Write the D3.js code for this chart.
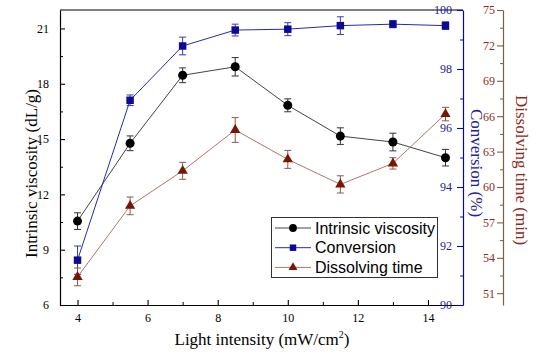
<!DOCTYPE html>
<html>
<head>
<meta charset="utf-8">
<script src="https://cdn.jsdelivr.net/npm/d3@7"></script>
<style>
  body { margin: 0; background: #fff; }
  svg { display: block; }
</style>
</head>
<body>
<script>
// values
const lightIntensity = [4, 5.5, 7, 8.5, 10, 11.5, 13, 14.5];
const viscosity = [10.55, 14.77, 18.46, 18.92, 16.83, 15.16, 14.84, 13.99];
const viscosityErr = [0.45, 0.4, 0.4, 0.5, 0.35, 0.45, 0.48, 0.45];
const conversion = [91.52, 96.94, 98.78, 99.32, 99.35, 99.47, 99.52, 99.47];
const conversionErr = [0.48, 0.18, 0.3, 0.2, 0.22, 0.3, 0.12, 0.13];
const dissolving = [52.38, 58.4, 61.37, 64.83, 62.34, 60.22, 62.0, 66.18];
const dissolvingErr = [0.75, 0.75, 0.72, 1.05, 0.76, 0.73, 0.48, 0.57];

const xTicks = [4, 6, 8, 10, 12, 14];
const viscTicks = [6, 9, 12, 15, 18, 21];
const convTicks = [90, 92, 94, 96, 98, 100];
const dissTicks = [51, 54, 57, 60, 63, 66, 69, 72, 75];

const W = 550, H = 357;
const plotLeft = 60, plotRight = 463, plotTop = 10, plotBottom = 305;
const dissAxisX = 503;

const black = "#000", blue = "#0a0a96", darkRed = "#7a1600";
const blueText = "#22229a", redText = "#8e2a22", brownAxis = "#7b5f45";

const svg = d3.select("body").append("svg")
  .attr("width", W)
  .attr("height", H);

const x = d3.scaleLinear().domain([3.5, 15]).range([plotLeft, plotRight]);
const yVisc = d3.scaleLinear().domain([6, 22]).range([plotBottom, plotTop]);
const yConv = d3.scaleLinear().domain([90, 100]).range([plotBottom, plotTop]);
const yDiss = d3.scaleLinear().domain([50, 75]).range([plotBottom, plotTop]);

const serif = "'Liberation Serif', 'Times New Roman', serif";
const sans = "'Liberation Sans', Arial, sans-serif";

const styleAxis = (g, color, textColor) => {
  g.select(".domain").attr("stroke", color).attr("stroke-width", 1.2);
  g.selectAll(".tick line").attr("stroke", color).attr("stroke-width", 1.1);
  g.selectAll(".tick text")
    .attr("fill", textColor)
    .style("font-family", serif)
    .style("font-size", "12px");
};

// top frame line
svg.append("line")
  .attr("x1", plotLeft).attr("x2", plotRight)
  .attr("y1", plotTop).attr("y2", plotTop)
  .attr("stroke", black).attr("stroke-width", 1.2);

// bottom axis
svg.append("g")
  .attr("transform", `translate(0,${plotBottom})`)
  .call(d3.axisBottom(x).tickValues([5, 7, 9, 11, 13]).tickFormat("").tickSizeInner(-3).tickSizeOuter(0))
  .call(g => g.select(".domain").remove())
  .call(g => g.selectAll(".tick line").attr("stroke", black));
svg.append("g")
  .attr("transform", `translate(0,${plotBottom})`)
  .call(d3.axisBottom(x).tickValues(xTicks).tickSizeInner(-5).tickSizeOuter(0).tickPadding(8))
  .call(g => styleAxis(g, black, black));

// left axis
svg.append("g")
  .attr("transform", `translate(${plotLeft},0)`)
  .call(d3.axisLeft(yVisc).tickValues([7.5, 10.5, 13.5, 16.5, 19.5]).tickFormat("").tickSizeInner(-3).tickSizeOuter(0))
  .call(g => g.select(".domain").remove())
  .call(g => g.selectAll(".tick line").attr("stroke", black));
svg.append("g")
  .attr("transform", `translate(${plotLeft},0)`)
  .call(d3.axisLeft(yVisc).tickValues(viscTicks).tickSizeInner(-5).tickSizeOuter(0).tickPadding(11))
  .call(g => styleAxis(g, black, black));

// conversion axis (blue)
svg.append("g")
  .attr("transform", `translate(${plotRight},0)`)
  .call(d3.axisLeft(yConv).tickValues([91, 93, 95, 97, 99]).tickFormat("").tickSizeInner(3).tickSizeOuter(0))
  .call(g => g.select(".domain").remove())
  .call(g => g.selectAll(".tick line").attr("stroke", blue));
svg.append("g")
  .attr("transform", `translate(${plotRight},0)`)
  .call(d3.axisLeft(yConv).tickValues(convTicks).tickSizeInner(6).tickSizeOuter(0).tickPadding(5))
  .call(g => styleAxis(g, blue, blueText));

// dissolving time axis
svg.append("g")
  .attr("transform", `translate(${dissAxisX},0)`)
  .call(d3.axisLeft(yDiss).tickValues([52.5, 55.5, 58.5, 61.5, 64.5, 67.5, 70.5, 73.5]).tickFormat("").tickSizeInner(3).tickSizeOuter(0))
  .call(g => g.select(".domain").remove())
  .call(g => g.selectAll(".tick line").attr("stroke", brownAxis));
svg.append("g")
  .attr("transform", `translate(${dissAxisX},0)`)
  .call(d3.axisLeft(yDiss).tickValues(dissTicks).tickSizeInner(6).tickSizeOuter(0).tickPadding(2))
  .call(g => styleAxis(g, brownAxis, redText));

// axis titles
svg.append("text")
  .attr("transform", `translate(37,${(plotTop + plotBottom) / 2 + 16}) rotate(-90)`)
  .attr("text-anchor", "middle")
  .style("font-family", serif).style("font-size", "17px")
  .text("Intrinsic viscosity (dL/g)");

const xTitle = svg.append("text")
  .attr("x", 262).attr("y", 345)
  .attr("text-anchor", "middle")
  .style("font-family", serif).style("font-size", "17px");
xTitle.append("tspan").text("Light intensity (mW/cm");
xTitle.append("tspan").attr("dy", -7).style("font-size", "10px").text("2");
xTitle.append("tspan").attr("dy", 7).text(")");

svg.append("text")
  .attr("transform", `translate(471,163) rotate(90)`)
  .attr("text-anchor", "middle")
  .attr("fill", blueText)
  .style("font-family", serif).style("font-size", "17px")
  .text("Conversion (%)");

svg.append("text")
  .attr("transform", `translate(516,170) rotate(90)`)
  .attr("text-anchor", "middle")
  .attr("fill", redText)
  .style("font-family", serif).style("font-size", "17px")
  .text("Dissolving time (min)");

// series
const series = [
  { name: "Intrinsic viscosity", values: viscosity, errs: viscosityErr, y: yVisc,
    shape: d3.symbolCircle, size: 64, fill: black, line: "#444", err: "#333" },
  { name: "Conversion", values: conversion, errs: conversionErr, y: yConv,
    shape: d3.symbolSquare, size: 56, fill: blue, line: "#2a2aa8", err: "#3a3aa8" },
  { name: "Dissolving time", values: dissolving, errs: dissolvingErr, y: yDiss,
    shape: d3.symbolTriangle, size: 46, fill: darkRed, line: "#a87a6a", err: "#8a5a4a" }
];

series.forEach(s => {
  const pts = lightIntensity.map((v, i) => ({ x: v, y: s.values[i], e: s.errs[i] }));
  const g = svg.append("g");

  g.append("path")
    .datum(pts)
    .attr("fill", "none")
    .attr("stroke", s.line)
    .attr("stroke-width", 1)
    .attr("d", d3.line().x(d => x(d.x)).y(d => s.y(d.y)));

  const eb = g.selectAll(".err").data(pts).enter().append("g")
    .attr("stroke", s.err).attr("stroke-width", 1);
  eb.append("line")
    .attr("x1", d => x(d.x)).attr("x2", d => x(d.x))
    .attr("y1", d => s.y(d.y - d.e)).attr("y2", d => s.y(d.y + d.e));
  eb.append("line")
    .attr("x1", d => x(d.x) - 3.5).attr("x2", d => x(d.x) + 3.5)
    .attr("y1", d => s.y(d.y + d.e)).attr("y2", d => s.y(d.y + d.e));
  eb.append("line")
    .attr("x1", d => x(d.x) - 3.5).attr("x2", d => x(d.x) + 3.5)
    .attr("y1", d => s.y(d.y - d.e)).attr("y2", d => s.y(d.y - d.e));

  g.selectAll(".pt").data(pts).enter().append("path")
    .attr("transform", d => `translate(${x(d.x)},${s.y(d.y)})`)
    .attr("d", d3.symbol().type(s.shape).size(s.size))
    .attr("fill", s.fill);
});

// legend
const legend = svg.append("g");
legend.append("rect")
  .attr("x", 271.5).attr("y", 217.5)
  .attr("width", 166).attr("height", 60)
  .attr("fill", "#fff")
  .attr("stroke", "#333").attr("stroke-width", 1);

series.forEach((s, i) => {
  const ly = 228 + i * 19.7;
  legend.append("line")
    .attr("x1", 275).attr("x2", 311)
    .attr("y1", ly).attr("y2", ly)
    .attr("stroke", s.line).attr("stroke-width", 1);
  legend.append("path")
    .attr("transform", `translate(293,${ly})`)
    .attr("d", d3.symbol().type(s.shape).size(s.size * 0.75))
    .attr("fill", s.fill);
  legend.append("text")
    .attr("x", 315).attr("y", ly)
    .attr("dy", "0.35em")
    .style("font-family", sans).style("font-size", "16px")
    .text(s.name);
});
</script>
</body>
</html>
